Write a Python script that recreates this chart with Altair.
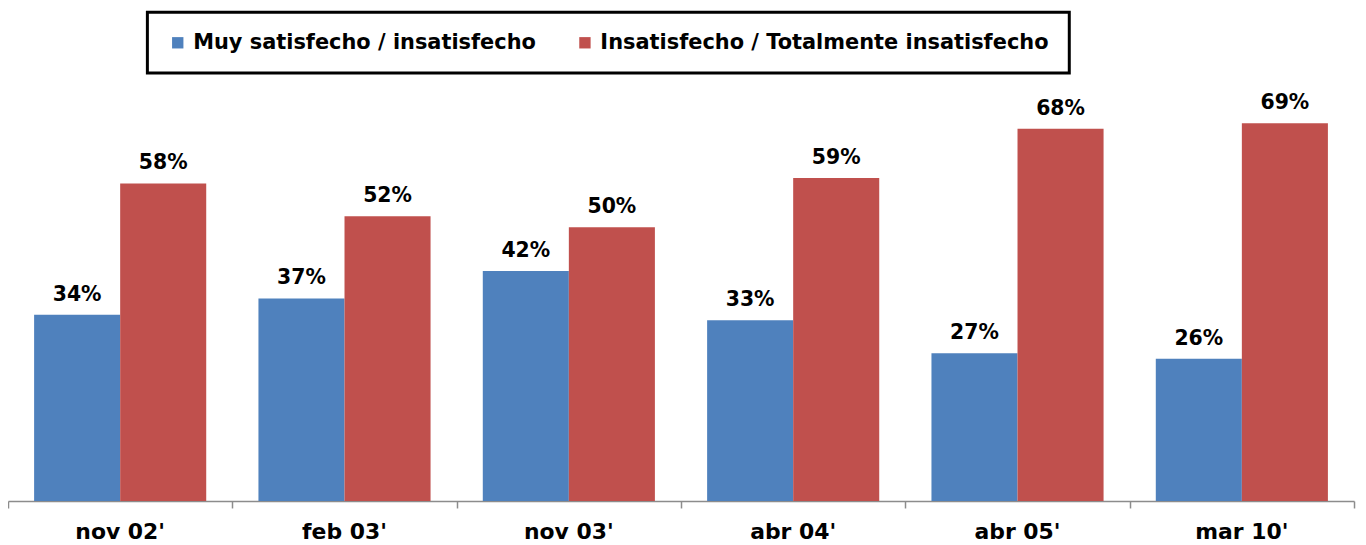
import altair as alt
import pandas as pd

categories = ["nov 02'", "feb 03'", "nov 03'", "abr 04'", "abr 05'", "mar 10'"]
series = ["Muy satisfecho / insatisfecho", "Insatisfecho / Totalmente insatisfecho"]
muy_satisfecho = [34, 37, 42, 33, 27, 26]
insatisfecho = [58, 52, 50, 59, 68, 69]
colors = ["#4F81BD", "#C0504D"]
band_edges = [0, 1, 2, 3, 4, 5, 6]

rows = []
for i, c in enumerate(categories):
    rows.append({"cat": c, "serie": series[0], "value": muy_satisfecho[i]})
    rows.append({"cat": c, "serie": series[1], "value": insatisfecho[i]})
df = pd.DataFrame(rows)
df["label"] = df["value"].astype(str) + "%"
edges_df = pd.DataFrame({"edge": band_edges})

FONT = "DejaVu Sans"
W, H = 1352, 440

xenc = alt.X(
    "cat:N", sort=categories,
    scale=alt.Scale(paddingInner=0.2328, paddingOuter=0.1164),
    axis=alt.Axis(title=None, domain=False, ticks=False, tickSize=0, labelAngle=0,
                  labelFont=FONT, labelFontSize=22, labelFontWeight="bold",
                  labelColor="black", labelPadding=21, grid=False),
)
xoff = alt.XOffset("serie:N", sort=series, scale=alt.Scale(paddingInner=0, paddingOuter=0))
yenc = alt.Y("value:Q", scale=alt.Scale(domain=[0, 80], nice=False), axis=None)

bars = alt.Chart(df).mark_bar().encode(
    x=xenc, xOffset=xoff, y=yenc,
    color=alt.Color(
        "serie:N", sort=series,
        scale=alt.Scale(domain=series, range=colors),
        legend=alt.Legend(
            title=None, orient="none", legendX=140, legendY=-51, direction="horizontal",
            strokeColor="black", padding=20, fillColor="white",
            symbolType="square", symbolSize=130, symbolStrokeWidth=0,
            labelFont=FONT, labelFontSize=21, labelFontWeight="bold", labelColor="black",
            columnPadding=38, labelOffset=5, labelLimit=0,
        ),
    ),
)

text = alt.Chart(df).mark_text(
    baseline="alphabetic", dy=-14, font=FONT, fontSize=20.5, fontWeight="bold", color="black"
).encode(x=xenc, xOffset=xoff, y=yenc, text="label:N")

ticks = alt.Chart(edges_df).mark_point(opacity=0).encode(
    x=alt.X("edge:Q", scale=alt.Scale(domain=[0, 6], nice=False, zero=False),
            axis=alt.Axis(values=band_edges, labels=False, ticks=True, tickSize=7,
                          tickColor="#8c8c8c", tickWidth=1.5, domain=True,
                          domainColor="#8c8c8c", domainWidth=1.5, grid=False,
                          title=None, orient="bottom")),
    y=alt.value(0),
)

chart = (
    alt.layer(alt.layer(bars, text), ticks)
    .resolve_scale(x="independent")
    .properties(
        width=W, height=H,
        padding={"left": 0, "top": 54, "right": 4, "bottom": 43},
        autosize=alt.AutoSizeParams(type="none"),
    )
    .configure_view(stroke=None)
    .configure_legend(strokeWidth=3)
)

chart.save("out.html", embed_options={"renderer": "svg", "actions": False})
